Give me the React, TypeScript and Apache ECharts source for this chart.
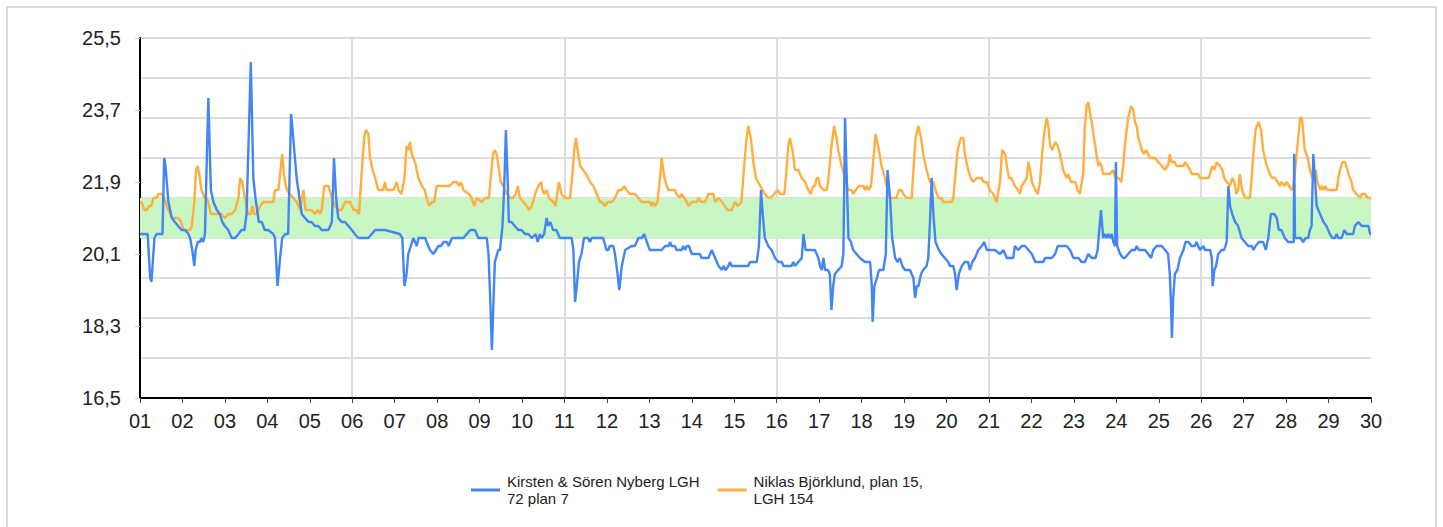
import React, { useEffect, useRef } from 'react';
import * as echarts from 'echarts';

const dayLabels = ['01','02','03','04','05','06','07','08','09','10','11','12','13','14','15','16','17','18','19','20','21','22','23','24','25','26','27','28','29','30'];

const kirstenName = 'Kirsten & Sören Nyberg LGH 72 plan 7';
const niklasName = 'Niklas Björklund, plan 15, LGH 154';
const legendLines: Record<string, string> = {
  [kirstenName]: 'Kirsten & Sören Nyberg LGH\n72 plan 7',
  [niklasName]: 'Niklas Björklund, plan 15,\nLGH 154',
};

const comfortBand = [20.5, 21.5];

// [day offset from the 1st, temperature °C]
const kirstenPoints = [
  [0.00,20.6],[0.18,20.6],[0.24,19.5],[0.27,19.4],[0.34,20.5],[0.39,20.6],[0.53,20.6],[0.57,22.5],[0.60,22.3],[0.67,21.4],[0.75,21.0],[0.82,20.9],[0.90,20.8],[0.98,20.7],[1.06,20.7],[1.14,20.6],[1.18,20.5],[1.23,20.2],[1.28,19.8],[1.31,20.2],[1.36,20.4],[1.41,20.4],[1.45,20.5],[1.49,20.4],[1.53,20.6],[1.61,24.0],[1.67,21.7],[1.73,21.4],[1.81,21.2],[1.88,21.1],[1.94,20.9],[2.00,20.8],[2.08,20.7],[2.16,20.5],[2.24,20.5],[2.32,20.6],[2.39,20.7],[2.46,20.7],[2.51,21.1],[2.61,24.9],[2.67,22.0],[2.72,21.5],[2.80,20.9],[2.87,20.9],[2.94,20.7],[3.02,20.7],[3.14,20.6],[3.18,20.5],[3.24,19.3],[3.30,20.0],[3.35,20.5],[3.42,20.6],[3.49,20.6],[3.56,23.6],[3.61,23.0],[3.69,22.0],[3.77,21.4],[3.81,21.1],[3.89,21.0],[3.97,20.9],[4.04,20.9],[4.12,20.8],[4.20,20.8],[4.28,20.7],[4.36,20.7],[4.44,20.7],[4.52,20.9],[4.57,22.5],[4.62,21.5],[4.67,21.0],[4.75,20.9],[4.83,20.9],[4.91,20.8],[4.99,20.7],[5.06,20.6],[5.14,20.5],[5.22,20.5],[5.30,20.5],[5.38,20.5],[5.46,20.6],[5.54,20.7],[5.61,20.7],
  [5.77,20.7],[6.12,20.6],[6.18,20.5],[6.23,19.3],[6.28,19.6],[6.32,20.1],[6.38,20.3],[6.44,20.5],[6.52,20.3],[6.56,20.5],[6.72,20.5],[6.75,20.4],[6.83,20.2],[6.91,20.1],[6.97,20.2],[7.03,20.3],[7.09,20.3],[7.15,20.4],[7.23,20.4],[7.27,20.3],[7.35,20.5],[7.62,20.5],[7.70,20.6],[7.78,20.7],[7.89,20.7],[7.97,20.5],[8.17,20.5],[8.21,20.1],[8.25,19.0],[8.29,17.7],[8.33,19.0],[8.36,19.9],[8.44,20.2],[8.48,20.2],[8.54,20.8],[8.58,21.8],[8.62,23.2],[8.66,22.0],[8.69,20.9],[8.75,20.9],[8.83,20.8],[8.91,20.7],[8.99,20.7],[9.07,20.6],[9.15,20.6],[9.23,20.5],[9.32,20.6],[9.37,20.4],[9.42,20.6],[9.46,20.5],[9.52,20.6],[9.58,21.0],[9.62,20.8],[9.67,20.9],[9.73,20.7],[9.81,20.7],[9.89,20.5],[10.17,20.5],[10.21,20.2],[10.25,18.9],[10.29,19.3],[10.34,19.9],[10.40,20.1],[10.46,20.5],[10.56,20.5],[10.60,20.4],[10.64,20.5],[10.91,20.5],[10.99,20.2],[11.03,20.2],[11.07,20.3],[11.15,20.3],[11.19,20.1],[11.25,19.6],[11.29,19.2],[11.35,19.8],[11.43,20.2],[11.58,20.3],[11.66,20.3],[11.74,20.5],
  [11.82,20.5],[11.88,20.6],[11.94,20.4],[12.01,20.2],[12.13,20.2],[12.29,20.2],[12.37,20.3],[12.45,20.3],[12.49,20.4],[12.52,20.3],[12.60,20.3],[12.64,20.2],[12.76,20.2],[12.80,20.3],[12.84,20.2],[12.88,20.3],[12.93,20.3],[13.00,20.1],[13.19,20.1],[13.23,20.0],[13.39,20.0],[13.47,20.2],[13.55,20.0],[13.63,19.8],[13.71,19.7],[13.74,19.8],[13.80,19.7],[13.86,19.8],[13.90,19.9],[13.94,19.8],[14.33,19.8],[14.37,19.9],[14.53,19.9],[14.58,20.3],[14.63,21.7],[14.67,21.1],[14.72,20.5],[14.80,20.3],[14.88,20.2],[14.96,20.0],[15.04,19.9],[15.12,19.9],[15.16,19.8],[15.35,19.8],[15.39,19.9],[15.43,19.8],[15.51,19.9],[15.59,20.0],[15.63,20.6],[15.68,20.2],[15.74,20.2],[15.90,20.2],[15.98,20.0],[16.02,19.8],[16.06,19.7],[16.10,20.0],[16.14,19.7],[16.21,19.7],[16.25,19.6],[16.29,18.7],[16.33,19.3],[16.37,19.6],[16.45,19.7],[16.53,19.8],[16.57,20.1],[16.61,23.5],[16.65,22.0],[16.69,20.5],[16.75,20.4],[16.80,20.2],[16.88,20.1],[16.96,20.0],[17.08,19.9],[17.20,19.9],[17.24,19.3],[17.26,18.4],[17.30,19.3],[17.36,19.5],[17.41,19.7],[17.51,19.7],[17.57,20.1],[17.61,22.2],
  [17.67,21.5],[17.72,20.5],[17.79,20.0],[17.85,19.9],[17.90,20.0],[17.96,19.8],[18.02,19.7],[18.14,19.7],[18.18,19.6],[18.22,19.5],[18.26,19.0],[18.30,19.3],[18.34,19.3],[18.40,19.6],[18.45,19.7],[18.53,19.8],[18.57,20.0],[18.61,20.9],[18.65,22.0],[18.69,21.1],[18.74,20.4],[18.82,20.2],[18.88,20.1],[18.96,20.0],[19.04,19.9],[19.08,19.8],[19.16,19.8],[19.20,19.6],[19.24,19.2],[19.29,19.6],[19.36,19.8],[19.43,19.9],[19.51,19.9],[19.55,19.7],[19.61,19.9],[19.67,20.0],[19.75,20.2],[19.83,20.3],[19.89,20.4],[19.95,20.2],[20.14,20.2],[20.26,20.1],[20.34,20.2],[20.38,20.1],[20.42,20.0],[20.57,20.0],[20.61,20.3],[20.69,20.2],[20.77,20.3],[20.85,20.3],[20.93,20.2],[21.01,20.1],[21.09,19.9],[21.28,19.9],[21.32,20.0],[21.48,20.0],[21.56,20.1],[21.62,20.3],[21.83,20.3],[21.91,20.2],[21.99,20.0],[22.11,20.0],[22.18,19.9],[22.26,19.9],[22.30,20.0],[22.34,20.1],[22.42,20.0],[22.51,20.0],[22.56,20.2],[22.59,20.6],[22.64,21.2],[22.69,20.5],[22.73,20.6],[22.77,20.5],[22.81,20.6],[22.85,20.5],[22.89,20.6],[22.93,20.4],[22.97,20.3],[22.99,22.4],[23.02,20.3],[23.09,20.1],[23.16,20.0],[23.20,20.0],[23.28,20.1],[23.36,20.2],[23.44,20.2],[23.48,20.3],[23.53,20.2],
  [23.68,20.2],[23.75,20.1],[23.82,20.0],[23.87,20.2],[23.95,20.3],[24.07,20.3],[24.15,20.2],[24.22,20.1],[24.26,19.6],[24.29,18.8],[24.31,18.0],[24.34,19.0],[24.38,19.6],[24.44,19.7],[24.50,20.0],[24.58,20.2],[24.63,20.4],[24.70,20.4],[24.77,20.3],[24.85,20.3],[24.89,20.4],[24.93,20.3],[24.97,20.2],[25.05,20.3],[25.09,20.2],[25.21,20.2],[25.25,20.0],[25.27,19.3],[25.31,19.7],[25.35,19.8],[25.40,20.1],[25.48,20.2],[25.54,20.2],[25.60,20.4],[25.64,21.8],[25.68,21.3],[25.73,21.1],[25.80,20.9],[25.87,20.8],[25.95,20.5],[26.03,20.4],[26.11,20.3],[26.19,20.3],[26.23,20.2],[26.28,20.3],[26.36,20.4],[26.46,20.4],[26.52,20.2],[26.58,20.5],[26.64,21.1],[26.72,21.1],[26.78,21.0],[26.83,20.7],[26.89,20.7],[26.97,20.5],[27.05,20.4],[27.18,20.4],[27.19,22.6],[27.21,20.5],[27.34,20.5],[27.40,20.4],[27.46,20.5],[27.52,20.5],[27.56,20.7],[27.60,20.8],[27.64,22.6],[27.68,22.0],[27.72,21.3],[27.80,21.1],[27.88,20.9],[27.95,20.8],[28.03,20.6],[28.09,20.5],[28.15,20.5],[28.19,20.6],[28.23,20.5],[28.31,20.5],[28.37,20.7],[28.43,20.6],[28.53,20.6],[28.58,20.6],[28.62,20.8],[28.70,20.9],[28.78,20.8],[28.94,20.8],[28.98,20.6],[29.00,20.6],
];

const niklasPoints = [
  [0.00,21.4],[0.04,21.4],[0.10,21.2],[0.16,21.2],[0.21,21.3],[0.27,21.3],[0.31,21.5],[0.39,21.5],[0.43,21.6],[0.51,21.6],[0.57,21.5],[0.63,21.3],[0.67,21.2],[0.75,21.0],[0.90,21.0],[0.97,20.9],[1.02,20.7],[1.10,20.7],[1.18,20.7],[1.22,20.8],[1.28,21.4],[1.32,22.2],[1.36,22.3],[1.41,22.0],[1.45,21.7],[1.52,21.5],[1.57,21.5],[1.63,21.3],[1.67,21.1],[1.92,21.1],[2.00,21.0],[2.08,21.1],[2.16,21.1],[2.24,21.2],[2.32,21.5],[2.36,22.0],[2.41,21.9],[2.47,21.5],[2.55,21.1],[2.61,21.1],[2.65,21.3],[2.69,21.1],[2.75,21.1],[2.83,21.3],[2.91,21.4],[3.14,21.4],[3.18,21.7],[3.26,21.7],[3.31,22.2],[3.35,22.6],[3.40,22.0],[3.46,21.7],[3.53,21.6],[3.61,21.5],[3.69,21.4],[3.77,21.2],[3.85,21.7],[3.90,21.2],[4.04,21.2],[4.12,21.1],[4.19,21.2],[4.24,21.1],[4.28,21.2],[4.34,21.8],[4.44,21.8],[4.52,21.5],[4.59,21.3],[4.67,21.2],[4.75,21.2],[4.83,21.4],[4.95,21.4],[5.03,21.2],[5.10,21.2],[5.16,21.1],[5.22,22.1],[5.28,23.0],[5.32,23.2],[5.38,23.1],[5.42,22.5],[5.48,22.2],[5.54,22.0],[5.61,21.7],[5.68,21.7],[5.73,21.7],[5.77,21.9],[5.81,21.7],
  [5.89,21.7],[5.97,21.7],[6.05,21.9],[6.09,21.7],[6.16,21.6],[6.23,22.0],[6.28,22.8],[6.32,22.7],[6.36,22.9],[6.40,22.6],[6.48,22.4],[6.56,22.0],[6.64,21.8],[6.71,21.7],[6.75,21.5],[6.81,21.3],[6.87,21.4],[6.93,21.4],[6.99,21.8],[7.30,21.8],[7.38,21.9],[7.46,21.9],[7.51,21.8],[7.56,21.9],[7.62,21.7],[7.75,21.6],[7.81,21.5],[7.88,21.3],[7.93,21.5],[8.05,21.4],[8.13,21.5],[8.22,21.5],[8.27,22.1],[8.32,22.6],[8.36,22.7],[8.40,22.6],[8.46,22.2],[8.50,21.9],[8.56,21.8],[8.64,21.6],[8.72,21.5],[8.79,21.5],[8.85,21.6],[8.90,21.8],[8.95,21.5],[9.03,21.4],[9.11,21.3],[9.16,21.2],[9.23,21.3],[9.31,21.6],[9.38,21.8],[9.45,21.9],[9.48,21.7],[9.52,21.6],[9.58,21.7],[9.63,21.5],[9.74,21.4],[9.79,21.3],[9.84,21.7],[9.87,21.9],[9.93,21.6],[10.01,21.5],[10.13,21.5],[10.18,22.0],[10.23,22.7],[10.27,23.0],[10.31,22.7],[10.37,22.3],[10.44,22.2],[10.51,22.1],[10.56,22.0],[10.60,21.9],[10.68,21.8],[10.76,21.6],[10.84,21.4],[10.88,21.4],[10.95,21.3],[11.02,21.4],[11.11,21.4],[11.19,21.5],[11.27,21.7],[11.35,21.7],[11.41,21.8],[11.46,21.7],[11.54,21.6],[11.66,21.6],[11.74,21.5],
  [11.82,21.4],[11.94,21.4],[12.01,21.4],[12.05,21.3],[12.09,21.4],[12.13,21.3],[12.19,21.4],[12.25,22.0],[12.29,22.5],[12.34,22.1],[12.38,21.9],[12.45,21.7],[12.60,21.7],[12.64,21.6],[12.72,21.5],[12.76,21.6],[12.82,21.5],[12.88,21.4],[12.92,21.3],[13.00,21.4],[13.12,21.4],[13.15,21.5],[13.22,21.4],[13.31,21.4],[13.39,21.6],[13.51,21.6],[13.55,21.4],[13.63,21.5],[13.71,21.4],[13.78,21.3],[13.84,21.2],[13.94,21.2],[14.02,21.4],[14.08,21.3],[14.17,21.4],[14.21,22.0],[14.28,22.9],[14.33,23.3],[14.39,23.0],[14.45,22.4],[14.51,22.0],[14.61,21.8],[14.72,21.6],[14.80,21.5],[14.86,21.5],[14.94,21.6],[15.02,21.7],[15.08,21.6],[15.18,21.6],[15.23,22.2],[15.27,22.8],[15.31,23.0],[15.37,22.7],[15.43,22.2],[15.51,22.2],[15.59,22.0],[15.67,21.9],[15.74,21.7],[15.80,21.6],[15.86,21.8],[15.90,21.8],[15.94,22.0],[15.98,22.0],[16.02,21.8],[16.10,21.7],[16.18,21.7],[16.21,21.9],[16.28,22.7],[16.35,23.3],[16.41,23.0],[16.45,22.7],[16.53,22.3],[16.61,22.0],[16.69,21.7],[16.76,21.7],[16.80,21.6],[16.86,21.7],[16.94,21.8],[17.04,21.8],[17.08,21.7],[17.12,21.8],[17.16,21.7],[17.22,21.8],[17.28,22.5],[17.33,23.1],[17.39,22.8],[17.47,22.3],[17.55,22.0],[17.63,21.6],
  [17.67,21.5],[17.82,21.5],[17.88,21.7],[17.94,21.7],[17.98,21.6],[18.06,21.5],[18.18,21.5],[18.22,22.2],[18.27,23.0],[18.34,23.3],[18.40,23.0],[18.45,22.6],[18.53,22.2],[18.61,21.9],[18.69,21.9],[18.74,21.7],[18.81,21.5],[18.88,21.5],[18.92,21.4],[19.12,21.4],[19.16,21.5],[19.22,22.2],[19.26,22.7],[19.34,23.0],[19.40,23.0],[19.43,22.6],[19.51,22.2],[19.57,22.0],[19.63,21.9],[19.71,22.0],[19.83,22.0],[19.87,21.9],[19.95,21.9],[20.02,21.7],[20.10,21.6],[20.18,21.4],[20.26,21.9],[20.31,22.7],[20.38,22.6],[20.42,22.3],[20.47,22.0],[20.53,22.0],[20.61,21.8],[20.69,21.7],[20.73,21.6],[20.77,21.8],[20.83,21.9],[20.89,22.0],[20.93,22.4],[20.97,22.2],[21.01,21.9],[21.09,21.7],[21.15,21.6],[21.20,21.9],[21.26,22.7],[21.31,23.2],[21.36,23.5],[21.40,23.3],[21.44,22.8],[21.49,22.7],[21.56,22.9],[21.62,22.8],[21.67,22.6],[21.75,22.2],[21.83,22.0],[21.87,22.1],[21.93,21.9],[22.03,21.9],[22.09,21.7],[22.14,21.6],[22.22,22.1],[22.26,23.3],[22.30,23.8],[22.34,23.9],[22.42,23.4],[22.50,22.8],[22.58,22.3],[22.61,22.4],[22.65,22.3],[22.69,22.1],[22.85,22.1],[22.93,22.2],[22.98,22.0],[23.05,22.0],[23.12,21.9],[23.16,22.3],[23.22,23.0],[23.28,23.5],[23.35,23.8],[23.40,23.7],[23.44,23.4],
  [23.48,23.3],[23.52,23.0],[23.60,22.7],[23.64,22.6],[23.71,22.7],[23.79,22.5],[23.91,22.5],[23.99,22.4],[24.07,22.3],[24.15,22.2],[24.19,22.3],[24.22,22.3],[24.26,22.6],[24.30,22.4],[24.37,22.4],[24.42,22.3],[24.58,22.3],[24.62,22.4],[24.68,22.3],[24.74,22.2],[24.77,22.1],[24.93,22.1],[24.97,22.0],[25.05,22.0],[25.18,22.0],[25.23,22.2],[25.26,22.3],[25.31,22.2],[25.36,22.4],[25.44,22.3],[25.50,22.2],[25.54,22.0],[25.60,21.9],[25.68,21.8],[25.73,22.0],[25.78,21.9],[25.83,21.6],[25.87,21.7],[25.91,22.1],[25.95,21.8],[25.99,21.6],[26.05,21.5],[26.15,21.5],[26.19,22.0],[26.23,22.6],[26.28,23.2],[26.35,23.4],[26.41,23.2],[26.46,22.7],[26.52,22.4],[26.58,22.2],[26.62,22.1],[26.67,22.0],[26.74,22.0],[26.80,21.9],[26.85,21.8],[26.89,21.9],[26.96,21.8],[27.01,21.9],[27.07,21.8],[27.13,21.7],[27.17,21.8],[27.25,22.6],[27.33,23.5],[27.37,23.5],[27.40,23.2],[27.44,22.7],[27.51,22.5],[27.56,22.2],[27.62,22.0],[27.66,22.1],[27.70,22.2],[27.74,21.9],[27.80,21.7],[27.84,21.8],[27.88,21.7],[27.92,21.8],[27.96,21.7],[28.19,21.7],[28.23,22.0],[28.27,22.2],[28.33,22.4],[28.39,22.4],[28.47,22.1],[28.54,21.9],[28.58,21.7],[28.66,21.6],[28.74,21.5],[28.78,21.6],[28.86,21.6],[28.92,21.5],[29.00,21.5],
];

const BLUE = '#4285f4';
const ORANGE = '#ffae3f';
const GRID = '#dcdcdc';
const FONT = 'Arial, "Liberation Sans", sans-serif';

export default function App() {
  const ref = useRef<HTMLDivElement>(null);
  useEffect(() => {
    if (!ref.current) return;
    const chart = echarts.init(ref.current, undefined, { renderer: 'svg' });
    chart.setOption({
      animation: false,
      backgroundColor: '#fff',
      textStyle: { fontFamily: FONT },
      graphic: [
        {
          type: 'rect',
          shape: { x: 7, y: 7, width: 1429, height: 560 },
          style: { fill: 'none', stroke: '#d9d9d9', lineWidth: 2 },
          silent: true,
          z: -1,
        },
      ],
      grid: { left: 140, top: 38, width: 1231, height: 360, containLabel: false },
      legend: {
        left: 466,
        top: 468,
        icon: 'rect',
        itemWidth: 29,
        itemHeight: 3,
        itemGap: 18,
        textStyle: { fontSize: 15, lineHeight: 17, color: '#222', fontFamily: FONT, padding: [0, 0, 0, 2] },
        formatter: (name: string) => legendLines[name] || name,
        data: [kirstenName, niklasName],
      },
      xAxis: [
        {
          type: 'value',
          min: 0,
          max: 29,
          interval: 1,
          axisLine: { show: true, onZero: false, lineStyle: { color: '#000', width: 2 } },
          axisTick: { show: true, length: 5, lineStyle: { color: '#444', width: 1 } },
          axisLabel: {
            fontSize: 20,
            color: '#222',
            margin: 13,
            showMinLabel: true,
            showMaxLabel: true,
            formatter: (v: number) => dayLabels[Math.round(v)],
          },
          splitLine: { show: false },
        },
        {
          type: 'value',
          min: 0,
          max: 29,
          interval: 5,
          position: 'top',
          axisLine: { show: false },
          axisTick: { show: false },
          axisLabel: { show: false },
          splitLine: { show: true, showMinLine: false, showMaxLine: false, lineStyle: { color: GRID, width: 2 } },
        },
      ],
      yAxis: [
        {
          type: 'value',
          min: 16.5,
          max: 25.5,
          interval: 1.8,
          axisLine: { show: true, lineStyle: { color: '#000', width: 2 } },
          axisTick: { show: true, length: 5, lineStyle: { color: '#ccc', width: 1 } },
          axisLabel: {
            fontSize: 20,
            color: '#222',
            margin: 19,
            formatter: (v: number) => v.toFixed(1).replace('.', ','),
          },
          splitLine: { show: false },
        },
        {
          type: 'value',
          min: 16.5,
          max: 25.5,
          interval: 1,
          position: 'right',
          axisLine: { show: false },
          axisTick: { show: false },
          axisLabel: { show: false },
          splitLine: { show: true, showMinLine: false, lineStyle: { color: GRID, width: 2 } },
        },
      ],
      series: [
        {
          name: kirstenName,
          type: 'line',
          xAxisIndex: 0,
          yAxisIndex: 0,
          data: kirstenPoints,
          symbol: 'none',
          z: 4,
          lineStyle: { color: BLUE, width: 2.4 },
          itemStyle: { color: BLUE },
        },
        {
          name: niklasName,
          type: 'line',
          xAxisIndex: 0,
          yAxisIndex: 0,
          data: niklasPoints,
          symbol: 'none',
          z: 3,
          lineStyle: { color: ORANGE, width: 2.4 },
          itemStyle: { color: ORANGE },
          markArea: {
            silent: true,
            itemStyle: { color: '#c9f7c4' },
            data: [[{ yAxis: comfortBand[0] }, { yAxis: comfortBand[1] }]],
          },
        },
      ],
    });
    return () => chart.dispose();
  }, []);
  return <div ref={ref} style={{ position: 'fixed', left: 0, top: 0, width: 1443, height: 527 }} />;
}
